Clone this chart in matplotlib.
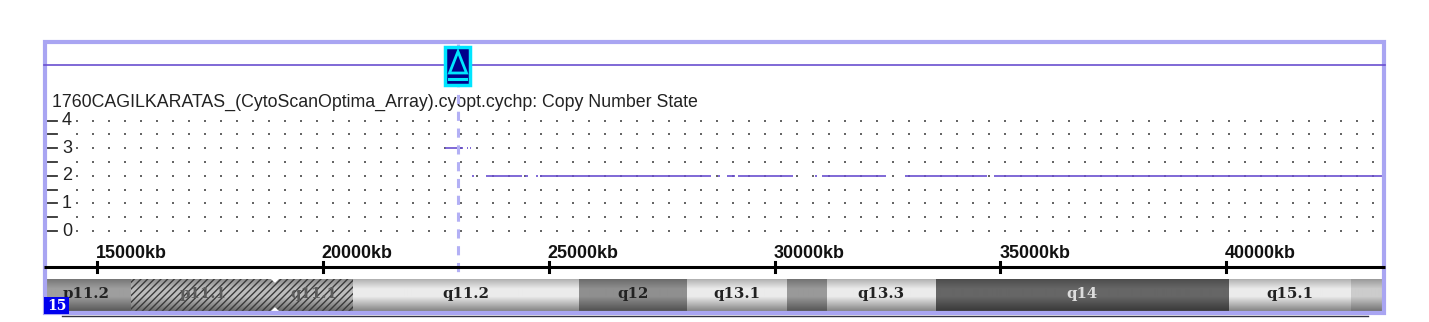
import numpy as np
import matplotlib
matplotlib.use('Agg')
import matplotlib.pyplot as plt
from matplotlib.patches import Rectangle, Polygon

W, H = 1429, 322

title = '1760CAGILKARATAS_(CytoScanOptima_Array).cyopt.cychp: Copy Number State'

# copy number segments (start kb, end kb)
state3_starts = [22705, 23192, 23258]
state3_ends = [23103, 23225, 23290]
state2_starts = [23302, 23612, 24476, 24720, 24808, 28749, 28948, 29192, 30896, 31051, 32889, 34860]
state2_ends = [23340, 24410, 24543, 24760, 28594, 28793, 29125, 30409, 30940, 32468, 34705, 43516]

y_ticks = [0, 1, 2, 3, 4]
kb_ticks = [15000, 20000, 25000, 30000, 35000, 40000]

# cytobands
band_names = ['p11.2', 'p11.1', 'q11.1', 'q11.2', 'q12', 'q13.1', '', 'q13.3', 'q14', 'q15.1', '']
band_edges = [13850, 15753, 18940, 20667, 25670, 28060, 30280, 31160, 33570, 40060, 42760, 43515]
band_gray = [0.62, 0.74, 0.74, 0.92, 0.56, 0.92, 0.60, 0.92, 0.40, 0.92, 0.80]
band_hatched = [False, True, True, False, False, False, False, False, False, False, False]
band_text = ['#222222', '#5c5c5c', '#5c5c5c', '#222222', '#222222', '#222222', '#222222', '#222222', '#dddddd', '#222222', '#222222']

# pixel -> data conversion of the main plot
kb_per_px = 22.14
xlim = (15000 - 97 * kb_per_px, 15000 + (W - 97) * kb_per_px)
px_per_cn = 27.6
ylim = ((231 - H) / px_per_cn, 231 / px_per_cn)

frame_col = '#a9a5f2'
line_col = '#6a4fd0'

fig = plt.figure(figsize=(W / 100, H / 100), dpi=100)
fig.patch.set_facecolor('white')

ax = fig.add_axes([0, 0, 1, 1])
ax.set_xlim(xlim)
ax.set_ylim(ylim)
ax.axis('off')

# dotted background grid, one dot every 16 px
grid_x = np.arange(76.5, 1380, 16) * kb_per_px + xlim[0]
grid_y = np.arange(0, 4.5, 0.5)
gx, gy = np.meshgrid(grid_x, grid_y)
ax.scatter(gx.ravel(), gy.ravel(), s=1.8, marker='s', color='#666666', linewidths=0, zorder=1)

# copy number state
ax.hlines([3] * len(state3_starts), state3_starts, state3_ends, color=line_col, lw=1.2, zorder=3)
ax.hlines([1.98] * len(state2_starts), state2_starts, state2_ends, color=line_col, lw=1.2, zorder=3)

# y axis
for v in np.arange(0, 4.5, 0.5):
    ax.plot([xlim[0] + 44 * kb_per_px, xlim[0] + 57 * kb_per_px], [v, v], color='#333333', lw=1.3, zorder=3)
for v in y_ticks:
    ax.text(xlim[0] + 67 * kb_per_px, v, str(v), fontsize=13, family='Liberation Sans', ha='center', va='center',
            color='#222222', zorder=4, bbox=dict(fc='white', ec='none', pad=0.2))

ax.text(xlim[0] + 52 * kb_per_px, (231 - 102) / px_per_cn, title, fontsize=12.8, family='Liberation Sans',
        ha='left', va='center', color='#222222')

# ideogram
ideo = fig.add_axes([0, 1 - 311 / H, 1, 32 / H])
ideo.set_xlim(xlim)
ideo.set_ylim(0, 1)
ideo.axis('off')
ideo.patch.set_alpha(0)
shade = np.interp(np.linspace(0, 1, 32), [0, 0.3, 0.55, 1], [0.76, 1.0, 1.0, 0.58]).reshape(-1, 1)
for i, name in enumerate(band_names):
    x0, x1 = band_edges[i], band_edges[i + 1]
    ideo.imshow(shade * band_gray[i], cmap='gray', vmin=0, vmax=1, aspect='auto',
                extent=(x0, x1, 0, 1), interpolation='bilinear', zorder=1)
    if band_hatched[i]:
        ideo.add_patch(Rectangle((x0, 0), x1 - x0, 1, fc='none', ec='#3a3a3a', hatch='/////', lw=0, zorder=2))
    if name:
        lx = (x0 + x1) / 2
        if i == 0:
            lx = 15000 + (86 - 97) * kb_per_px
        ideo.text(lx, 0.52, name, fontsize=10.8, fontweight='bold', family='DejaVu Serif',
                  ha='center', va='center', color=band_text[i], zorder=3)
ideo.set_xlim(xlim)
ideo.set_ylim(0, 1)
mid = band_edges[2]
ideo.add_patch(Polygon([(mid - 90, 1), (mid + 90, 1), (mid, 0.88)], fc='white', ec='none', zorder=4))
ideo.add_patch(Polygon([(mid - 90, 0), (mid + 90, 0), (mid, 0.12)], fc='white', ec='none', zorder=4))

# overlay in pixel coordinates: frame, cursor, chromosome badge
top = fig.add_axes([0, 0, 1, 1])
top.set_xlim(0, W)
top.set_ylim(H, 0)
top.axis('off')
top.patch.set_alpha(0)

top.plot([62, 1368], [315.5, 315.5], color='#333344', lw=1)
top.add_patch(Rectangle((45.5, 42), 1339, 270.5, fc='none', ec=frame_col, lw=3))
top.plot([44, 1385], [64.5, 64.5], color=line_col, lw=1.2)
top.plot([458.5, 458.5], [44, 278], color='#b3b0f5', lw=2.2, dashes=(3, 2.5))

# ruler sits on top of the frame
ruler_y = 267
top.plot([44, 1385], [ruler_y, ruler_y], color='black', lw=2.2, zorder=3, solid_capstyle='butt')
for k in kb_ticks:
    px = 97 + (k - 15000) / kb_per_px
    top.plot([px, px], [ruler_y - 5, ruler_y + 5], color='black', lw=2.2, zorder=3)
    top.text(px - 1, ruler_y - 14, f'{k}kb', fontsize=12.9, fontweight='bold', family='Liberation Sans',
             ha='left', va='center', color='#111111')

top.add_patch(Rectangle((445.5, 46.5), 25, 38, fc='#00008b', ec='#00e5ff', lw=2.5, zorder=5))
top.add_patch(Polygon([(458, 51.5), (449.5, 73), (466.5, 73)], fc='none', ec='#00e5ff', lw=2, zorder=6))
top.plot([449.5, 466.5], [78.5, 78.5], color='#00e5ff', lw=2.2, zorder=6)

top.add_patch(Rectangle((44, 297), 25, 17, fc='#0000ee', ec='none', zorder=5))
top.text(56.5, 306, '15', fontsize=10, fontweight='bold', family='DejaVu Serif', color='white',
         ha='center', va='center', zorder=6)

fig.savefig('out.png', dpi=100)
